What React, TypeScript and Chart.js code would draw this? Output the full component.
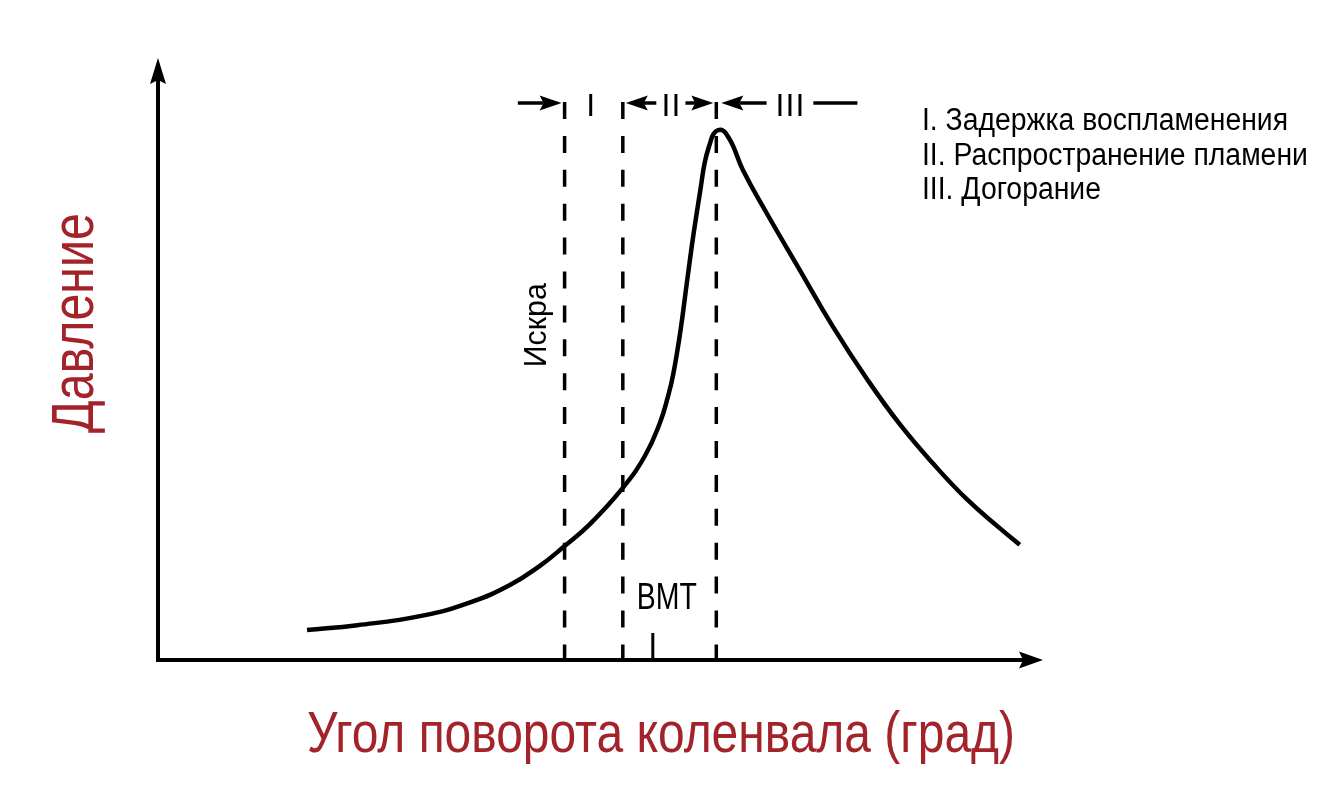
import React, { useEffect, useRef } from "react";
import { Chart, registerables } from "chart.js";

Chart.register(...registerables);

// Crank angle (arbitrary units 0..100) and cylinder pressure (arbitrary units 0..100)
const crankAngle = [16.9, 22.6, 30.0, 35.4, 39.9, 43.3, 46.1, 49.0, 52.7, 55.2, 56.9, 57.8, 58.4, 59.2, 60.0, 60.7, 61.5, 62.0, 62.6, 63.0, 63.5, 64.1, 64.6, 65.2, 66.3, 69.0, 72.8, 76.5, 80.4, 84.1, 87.9, 91.7, 95.5, 97.7];
const pressure = [5.0, 5.8, 7.4, 9.6, 12.5, 15.7, 19.0, 22.7, 28.7, 34.0, 39.5, 43.8, 47.5, 54.5, 63.3, 70.8, 78.4, 83.0, 86.2, 87.7, 88.3, 88.2, 87.3, 85.7, 81.7, 74.5, 64.9, 55.6, 46.8, 39.3, 32.7, 26.8, 21.9, 19.2];

// Phase boundaries: spark, start of flame propagation, peak pressure
const phaseBoundaries = [46.1, 52.7, 63.3];
const dashTop = 93;
const bmtAngle = 56.1;
const bmtTickHeight = 4.5;
const phaseLabels = ["I", "II", "III"];
const phaseArrowTails = [40.8, 56.5, 59.8, 69.0];
const phaseLineEnd = [74.3, 79.3];
const legendLines = ["I. Задержка воспламенения", "II. Распространение пламени", "III. Догорание"];
const sparkLabel = "Искра";
const bmtLabel = "ВМТ";
const xTitle = "Угол поворота коленвала (град)";
const yTitle = "Давление";

const FAMILY = '"Liberation Sans", Arial, sans-serif';
const RED = "#a3232a";

function arrow(ctx: CanvasRenderingContext2D, x1: number, y1: number, x2: number, y2: number, len = 22, hw = 8) {
  const ang = Math.atan2(y2 - y1, x2 - x1);
  const c = Math.cos(ang), s = Math.sin(ang);
  const bx = x2 - c * len, by = y2 - s * len;
  ctx.beginPath();
  ctx.moveTo(x1, y1);
  ctx.lineTo(bx + c * 4, by + s * 4);
  ctx.stroke();
  ctx.beginPath();
  ctx.moveTo(x2, y2);
  ctx.lineTo(bx - s * hw, by + c * hw);
  ctx.lineTo(bx + c * 4, by + s * 4);
  ctx.lineTo(bx + s * hw, by - c * hw);
  ctx.closePath();
  ctx.fill();
}

// draws text condensed horizontally so that it spans `width`
function fitText(
  ctx: CanvasRenderingContext2D, text: string, x: number, y: number, size: number,
  width: number, align: CanvasTextAlign, rot = 0, sxOverride?: number
) {
  ctx.save();
  ctx.font = `${size}px ${FAMILY}`;
  const sx = sxOverride ?? width / ctx.measureText(text).width;
  ctx.translate(x, y);
  if (rot) ctx.rotate(rot);
  ctx.scale(sx, 1);
  ctx.textAlign = align;
  ctx.textBaseline = "alphabetic";
  ctx.fillText(text, 0, 0);
  ctx.restore();
  return sx;
}

const decorPlugin = {
  id: "decor",
  afterDatasetsDraw(chart: any) {
    const ctx: CanvasRenderingContext2D = chart.ctx;
    const xs = chart.scales.x, ys = chart.scales.y;
    const X = (v: number) => xs.getPixelForValue(v);
    const Y = (v: number) => ys.getPixelForValue(v);
    const area = chart.chartArea;
    ctx.save();
    ctx.strokeStyle = "#000";
    ctx.fillStyle = "#000";
    ctx.lineCap = "butt";
    // axes
    ctx.lineWidth = 4;
    arrow(ctx, X(0) - 2, Y(0), area.right + 3, Y(0), 24, 8.5);
    arrow(ctx, X(0), Y(0) + 2, X(0), area.top - 2, 26, 8);

    // phase arrows at top
    const ay = Y(dashTop) + 1;
    ctx.lineWidth = 3.5;
    const b = phaseBoundaries.map(X);
    arrow(ctx, X(phaseArrowTails[0]), ay, b[0] - 3, ay, 22, 7.5);
    arrow(ctx, X(phaseArrowTails[1]), ay, b[1] + 3, ay, 22, 7.5);
    arrow(ctx, X(phaseArrowTails[2]), ay, b[2] - 3, ay, 22, 7.5);
    arrow(ctx, X(phaseArrowTails[3]), ay, b[2] + 5, ay, 22, 7.5);
    ctx.beginPath();
    ctx.moveTo(X(phaseLineEnd[0]), ay);
    ctx.lineTo(X(phaseLineEnd[1]), ay);
    ctx.stroke();

    ctx.font = `32px ${FAMILY}`;
    ctx.textAlign = "center";
    ctx.textBaseline = "alphabetic";
    (ctx as any).letterSpacing = "1.2px";
    const centers = [
      (b[0] + b[1]) / 2 - 3,
      (X(phaseArrowTails[1]) + X(phaseArrowTails[2])) / 2,
      (X(phaseArrowTails[3]) + X(phaseLineEnd[0])) / 2,
    ];
    phaseLabels.forEach((t, i) => ctx.fillText(t, centers[i] + 0.6, ay + 13));
    (ctx as any).letterSpacing = "0px";

    // spark label
    fitText(ctx, sparkLabel, b[0] - 19, Y(55.8), 32, 84, "center", -Math.PI / 2);

    // BMT label
    fitText(ctx, bmtLabel, X(bmtAngle) + 14, Y(8.5), 36, 60, "center");

    // legend text
    const lsx = fitText(ctx, legendLines[0], 922, 130, 31, 366, "left");
    legendLines.slice(1).forEach((t, i) => fitText(ctx, t, 922, 130 + (i + 1) * 34.5, 31, 0, "left", 0, lsx));

    // titles
    ctx.fillStyle = RED;
    fitText(ctx, xTitle, 661, 752, 57, 708, "center");
    fitText(ctx, yTitle, 93, 323, 59, 220, "center", -Math.PI / 2);
    ctx.restore();
  },
};

export default function App() {
  const ref = useRef<HTMLCanvasElement>(null);
  useEffect(() => {
    if (!ref.current) return;
    const dashed = phaseBoundaries.map((v) => ({
      data: [{ x: v, y: dashTop }, { x: v, y: 0 }],
      borderColor: "#000",
      borderWidth: 3.5,
      borderDash: [17, 16.9],
      pointRadius: 0,
      fill: false,
    }));
    const chart = new Chart(ref.current, {
      type: "line",
      data: {
        datasets: [
          {
            data: crankAngle.map((x, i) => ({ x, y: pressure[i] })),
            borderColor: "#000",
            borderWidth: 4.5,
            pointRadius: 0,
            tension: 0.45,
            borderJoinStyle: "round",
            fill: false,
          } as any,
          ...dashed,
          {
            data: [{ x: bmtAngle, y: bmtTickHeight }, { x: bmtAngle, y: 0 }],
            borderColor: "#000",
            borderWidth: 3,
            pointRadius: 0,
          },
        ],
      },
      options: {
        responsive: false,
        animation: false,
        events: [],
        clip: false as any,
        layout: { padding: { left: 158, right: 286, top: 60, bottom: 140 } },
        scales: {
          x: { type: "linear", min: 0, max: 100, display: false },
          y: { type: "linear", min: 0, max: 100, display: false },
        },
        plugins: { legend: { display: false }, tooltip: { enabled: false } },
      },
      plugins: [decorPlugin],
    });
    return () => chart.destroy();
  }, []);
  return (
    <div style={{ position: "absolute", left: 0, top: 0, width: 1326, height: 800, background: "#fff" }}>
      <canvas ref={ref} width={1326} height={800} />
    </div>
  );
}
